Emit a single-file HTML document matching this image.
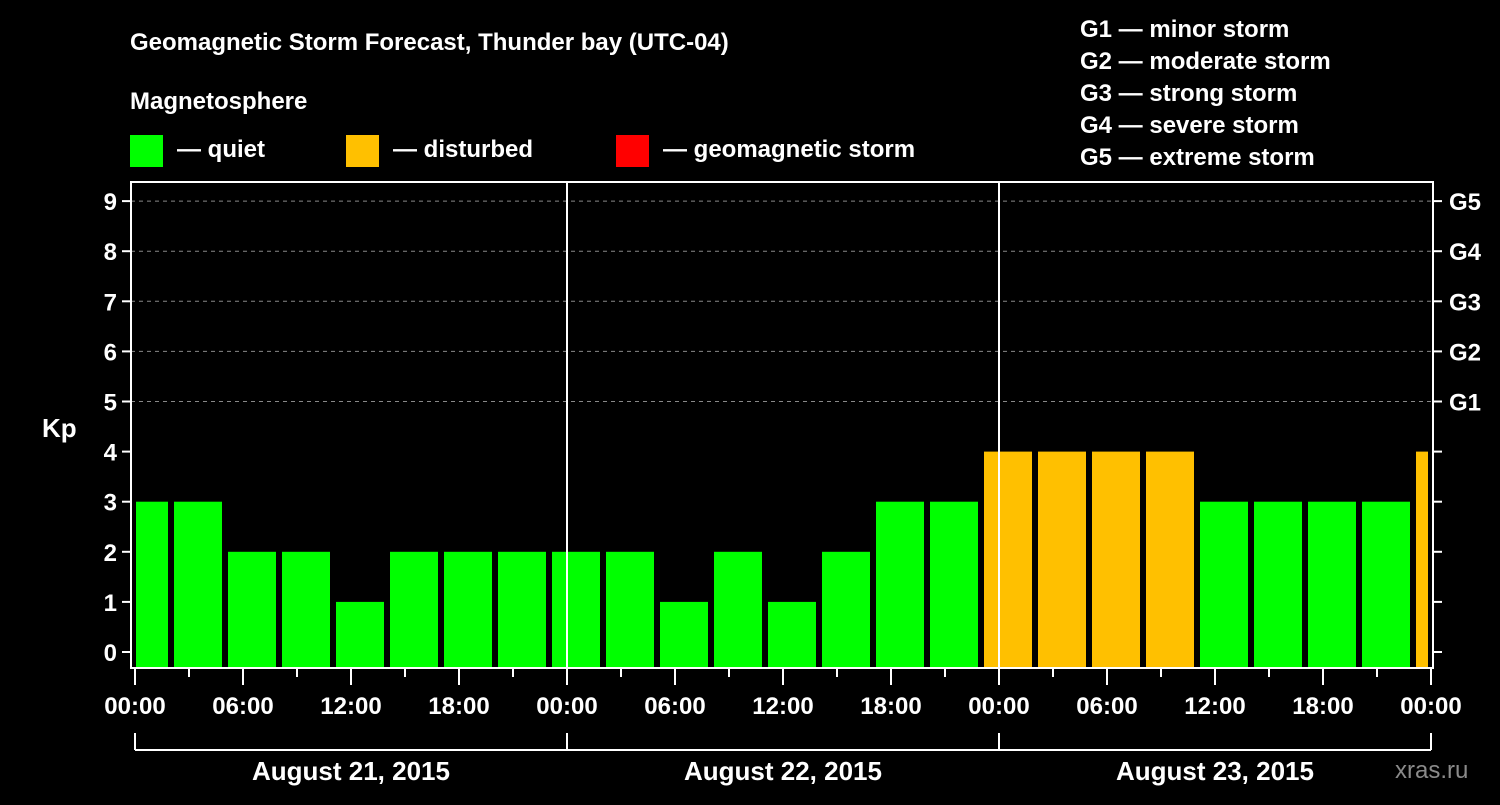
<!DOCTYPE html>
<html><head><meta charset="utf-8"><style>
body{margin:0;background:#000;width:1500px;height:800px;overflow:hidden;font-family:"Liberation Sans",sans-serif}
svg text{font-family:"Liberation Sans",sans-serif;font-weight:bold;fill:#fff}
</style></head><body>
<svg id="c" width="1500" height="800" xmlns="http://www.w3.org/2000/svg">
<rect width="1500" height="800" fill="#000"/>
<text x="130" y="50" font-size="24">Geomagnetic Storm Forecast, Thunder bay (UTC-04)</text>
<text x="130" y="109" font-size="24">Magnetosphere</text>
<g><rect x="130" y="135" width="33" height="32" fill="#00ff00"/><text x="177" y="157" font-size="24">— quiet</text></g>
<g><rect x="346" y="135" width="33" height="32" fill="#ffc000"/><text x="393" y="157" font-size="24">— disturbed</text></g>
<g><rect x="616" y="135" width="33" height="32" fill="#ff0000"/><text x="663" y="157" font-size="24">— geomagnetic storm</text></g>
<g font-size="24">
<text x="1080" y="37">G1 — minor storm</text>
<text x="1080" y="69">G2 — moderate storm</text>
<text x="1080" y="101">G3 — strong storm</text>
<text x="1080" y="133">G4 — severe storm</text>
<text x="1080" y="165">G5 — extreme storm</text>
</g>
<text x="42" y="437" font-size="26">Kp</text>
<text x="1395" y="778" font-size="24" fill="#888" style="fill:#8a8a8a;font-weight:normal">xras.ru</text>
<g id="grid"></g><g id="bars"></g><g id="axes"></g>
</svg>
<script>
const kpValues=[3,3,2,2,1,2,2,2,2,2,1,2,1,2,3,3,4,4,4,4,3,3,3,3,4];
const yTicks=[0,1,2,3,4,5,6,7,8,9];
const gLabels=["G1","G2","G3","G4","G5"];
const timeLabels=["00:00","06:00","12:00","18:00","00:00","06:00","12:00","18:00","00:00","06:00","12:00","18:00","00:00"];
const dayLabels=["August 21, 2015","August 22, 2015","August 23, 2015"];
const NS="http://www.w3.org/2000/svg";
const X0=135,HOURPX=18,PL=131,PR=1433,PT=182,PB=668;
const xh=h=>X0+h*HOURPX;
const y=v=>652-v*50.1;
function mk(tag,attrs,parent,txt){const e=document.createElementNS(NS,tag);for(const k in attrs)e.setAttribute(k,attrs[k]);if(txt!=null)e.textContent=txt;document.getElementById(parent).appendChild(e);return e;}
// grid
for(let v=5;v<=9;v++){const l=mk('line',{x1:PL,x2:PR,y1:y(v),y2:y(v),stroke:'#888','stroke-dasharray':'4,4','stroke-width':1},'grid');

}
// bars
kpValues.forEach((v,i)=>{let x1=xh(i*3)-15,x2=x1+48;x1=Math.max(x1,PL+5);x2=Math.min(x2,PR-5);
const col=v>=5?'#ff0000':(v>=4?'#ffc000':'#00ff00');
const r=mk('rect',{x:x1,y:y(v),width:x2-x1,height:PB-1-y(v),fill:col},'bars');

});
// day separators
[1,2].forEach(d=>{const l=mk('line',{x1:xh(d*24),x2:xh(d*24),y1:PT,y2:PB,stroke:'#fff','stroke-width':2},'axes');

});
// frame
const f=mk('rect',{x:PL,y:PT,width:PR-PL,height:PB-PT,fill:'none',stroke:'#fff','stroke-width':2},'axes');


yTicks.forEach(v=>{mk('line',{x1:PL-9,x2:PL,y1:y(v),y2:y(v),stroke:'#fff','stroke-width':2},'axes');
mk('line',{x1:PR,x2:PR+9,y1:y(v),y2:y(v),stroke:'#fff','stroke-width':2},'axes');
const t=mk('text',{x:PL-14,y:y(v)+9,'font-size':24,'text-anchor':'end'},'axes',String(v));

});
gLabels.forEach((g,i)=>{const t=mk('text',{x:1449,y:y(5+i)+9,'font-size':24},'axes',g);

});
for(let h=0;h<=72;h+=3){const major=h%6==0;mk('line',{x1:xh(h),x2:xh(h),y1:PB,y2:PB+(major?17:9),stroke:'#fff','stroke-width':2},'axes');}
timeLabels.forEach((s,i)=>{const t=mk('text',{x:xh(i*6),y:714,'font-size':24,'text-anchor':'middle'},'axes',s);

});
mk('line',{x1:xh(0),x2:xh(72),y1:750,y2:750,stroke:'#fff','stroke-width':2},'axes');
for(let d=0;d<=3;d++)mk('line',{x1:xh(d*24),x2:xh(d*24),y1:733,y2:750,stroke:'#fff','stroke-width':2},'axes');
dayLabels.forEach((s,i)=>{const t=mk('text',{x:xh(i*24+12),y:780,'font-size':26,'text-anchor':'middle'},'axes',s);

});
</script>
</body></html>
